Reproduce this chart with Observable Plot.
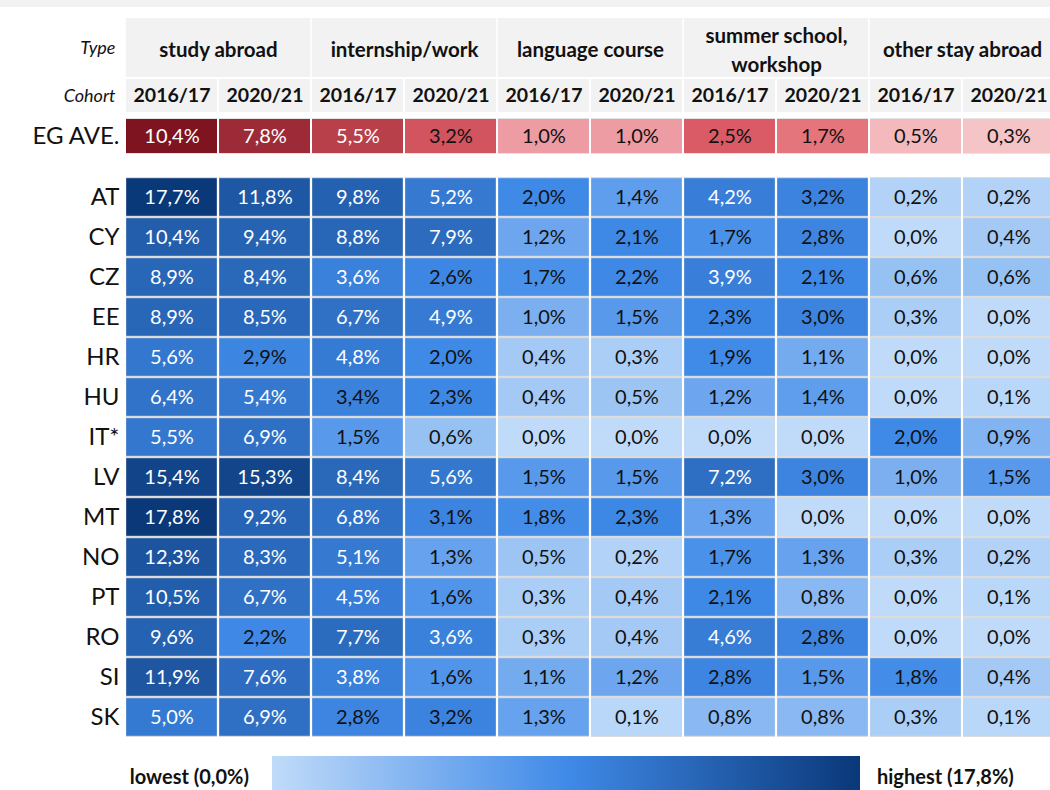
<!DOCTYPE html>
<html>
<head>
<meta charset="utf-8">
<script src="https://cdn.jsdelivr.net/npm/d3@7"></script>
<script src="https://cdn.jsdelivr.net/npm/@observablehq/plot@0.6"></script>
<style>
  html, body { margin: 0; padding: 0; background: #fff; overflow: hidden; width: 1050px; height: 790px; }
  body { font-family: Lato, "Open Sans", sans-serif; color: #111; }
  #strip { height: 7px; background: #f2f2f2; }
  #chart svg { display: block; }
  #legend { position: relative; height: 46px; }
  #legend .lbl { position: absolute; top: 20px; font-weight: 700; font-size: 20px; line-height: 24px; white-space: nowrap; color: #111; }
  #legend .bar { position: absolute; left: 272px; top: 12px; width: 588px; height: 40px; }
</style>
</head>
<body>
<div id="strip"></div>
<div id="chart"></div>
<div id="legend"></div>
<script>
// ---- data ----
const types = ["study abroad", "internship/work", "language course", "summer school,\nworkshop", "other stay abroad"];
const cohorts = ["2016/17", "2020/21"];
const countries = ["AT", "CY", "CZ", "EE", "HR", "HU", "IT*", "LV", "MT", "NO", "PT", "RO", "SI", "SK"];
const egLabel = "EG AVE.";
const egAve = [10.4, 7.8, 5.5, 3.2, 1.0, 1.0, 2.5, 1.7, 0.5, 0.3];
const AT = [17.7, 11.8, 9.8, 5.2, 2.0, 1.4, 4.2, 3.2, 0.2, 0.2];
const CY = [10.4, 9.4, 8.8, 7.9, 1.2, 2.1, 1.7, 2.8, 0.0, 0.4];
const CZ = [8.9, 8.4, 3.6, 2.6, 1.7, 2.2, 3.9, 2.1, 0.6, 0.6];
const EE = [8.9, 8.5, 6.7, 4.9, 1.0, 1.5, 2.3, 3.0, 0.3, 0.0];
const HR = [5.6, 2.9, 4.8, 2.0, 0.4, 0.3, 1.9, 1.1, 0.0, 0.0];
const HU = [6.4, 5.4, 3.4, 2.3, 0.4, 0.5, 1.2, 1.4, 0.0, 0.1];
const IT = [5.5, 6.9, 1.5, 0.6, 0.0, 0.0, 0.0, 0.0, 2.0, 0.9];
const LV = [15.4, 15.3, 8.4, 5.6, 1.5, 1.5, 7.2, 3.0, 1.0, 1.5];
const MT = [17.8, 9.2, 6.8, 3.1, 1.8, 2.3, 1.3, 0.0, 0.0, 0.0];
const NO = [12.3, 8.3, 5.1, 1.3, 0.5, 0.2, 1.7, 1.3, 0.3, 0.2];
const PT = [10.5, 6.7, 4.5, 1.6, 0.3, 0.4, 2.1, 0.8, 0.0, 0.1];
const RO = [9.6, 2.2, 7.7, 3.6, 0.3, 0.4, 4.6, 2.8, 0.0, 0.0];
const SI = [11.9, 7.6, 3.8, 1.6, 1.1, 1.2, 2.8, 1.5, 1.8, 0.4];
const SK = [5.0, 6.9, 2.8, 3.2, 1.3, 0.1, 0.8, 0.8, 0.3, 0.1];
const rows = [AT, CY, CZ, EE, HR, HU, IT, LV, MT, NO, PT, RO, SI, SK];

// ---- styles ----
const blueRange = ["#c0dbf9", "#408ae8", "#0a3879"];
const redRange = ["#f5c4c7", "#df5e68", "#7d1420"];
const headerFill = "#f2f2f2";
const font = "Lato, 'Open Sans', sans-serif";

// ---- derived tables ----
const colKeys = types.flatMap(t => cohorts.map(c => t + "|" + c));
const cohortCells = colKeys.map(k => ({col: k, label: k.split("|")[1], row: "Cohort"}));
const typeCells = types.map(t => ({type: t, row: "Type"}));
const egCells = egAve.map((v, j) => ({col: colKeys[j], row: egLabel, v}));
const data = countries.flatMap((ct, i) => rows[i].map((v, j) => ({country: ct, col: colKeys[j], v})));
const fmt = v => d3.format(".1f")(v).replace(".", ",") + "%";

const allV = data.map(d => d.v);
const blueDomain = [d3.min(allV), d3.median(allV), d3.max(allV)];
const redDomain = [d3.min(egAve), d3.median(egAve), d3.max(egAve)];

const xRange = [125, 1055];
const baseStyle = {fontFamily: font, background: "transparent", color: "#111"};

// Type header row
const plotType = Plot.plot({
  width: 1050, height: 70, marginTop: 11, marginBottom: 0, marginLeft: 125, marginRight: 0,
  style: baseStyle,
  x: {domain: types, range: xRange, padding: 0, axis: null},
  y: {domain: ["Type"], padding: 0, axis: null},
  marks: [
    Plot.cell(typeCells, {x: "type", y: "row", fill: headerFill, insetLeft: 0.75, insetRight: 0.75}),
    Plot.text(typeCells, {x: "type", y: "row", text: "type", fontWeight: 700, fontSize: 20.5, lineHeight: 1.4, fill: "#111"}),
    Plot.axisY({label: null, tickSize: 0, tickPadding: 10, fontSize: 18, fontStyle: "italic", fill: "#111"})
  ]
});

// Cohort header row
const plotCohort = Plot.plot({
  width: 1050, height: 35, marginTop: 2, marginBottom: 0, marginLeft: 125, marginRight: 0,
  style: baseStyle,
  x: {domain: colKeys, range: xRange, padding: 0, axis: null},
  y: {domain: ["Cohort"], padding: 0, axis: null},
  marks: [
    Plot.cell(cohortCells, {x: "col", y: "row", fill: headerFill, insetLeft: 1, insetRight: 1}),
    Plot.text(cohortCells, {x: "col", y: "row", text: "label", fontWeight: 700, fontSize: 19.5, fill: "#111"}),
    Plot.axisY({label: null, tickSize: 0, tickPadding: 10, fontSize: 18, fontStyle: "italic", fill: "#111"})
  ]
});

// EG average row
const plotEG = Plot.plot({
  width: 1050, height: 44, marginTop: 6, marginBottom: 2, marginLeft: 125, marginRight: 0,
  style: baseStyle,
  x: {domain: colKeys, range: xRange, padding: 0, axis: null},
  y: {domain: [egLabel], padding: 0, axis: null},
  color: {type: "linear", domain: redDomain, range: redRange, interpolate: "rgb"},
  marks: [
    Plot.cell(egCells, {x: "col", y: "row", fill: "#e4e4e4", insetLeft: 1, insetRight: 1}),
    Plot.cell(egCells, {x: "col", y: "row", fill: "v", inset: 1}),
    Plot.text(egCells, {x: "col", y: "row", text: d => fmt(d.v), fontSize: 20, fill: d => d.v > 4 ? "#fff" : "#111"}),
    Plot.axisY({label: null, tickSize: 0, tickPadding: 6, fontSize: 24, fill: "#111"})
  ]
});

// country rows
const plotData = Plot.plot({
  width: 1050, height: 588, marginTop: 14.5, marginBottom: 0, marginLeft: 125, marginRight: 0,
  style: baseStyle,
  x: {domain: colKeys, range: xRange, padding: 0, axis: null},
  y: {domain: countries, padding: 0, axis: null},
  color: {type: "linear", domain: blueDomain, range: blueRange, interpolate: "rgb"},
  marks: [
    Plot.cell(data, {x: "col", y: "country", fill: "#dcdcdc", insetLeft: 1, insetRight: 1}),
    Plot.cell(data, {x: "col", y: "country", fill: "v", inset: 1.2}),
    Plot.text(data, {x: "col", y: "country", text: d => fmt(d.v), fontSize: 20, fill: d => d.v > 3.4 ? "#fff" : "#111"}),
    Plot.axisY({label: null, tickSize: 0, tickPadding: 6, fontSize: 24, fill: "#111"})
  ]
});

const chart = document.getElementById("chart");
[plotType, plotCohort, plotEG, plotData].forEach(p => chart.appendChild(p));

// legend
const legend = document.getElementById("legend");
const lo = document.createElement("div");
lo.className = "lbl";
lo.style.right = (1050 - 249) + "px";
lo.textContent = `lowest (${fmt(blueDomain[0])})`;
const bar = document.createElement("div");
bar.className = "bar";
bar.style.background = `linear-gradient(to right, ${blueRange[0]}, ${blueRange[1]}, ${blueRange[2]})`;
const hi = document.createElement("div");
hi.className = "lbl";
hi.style.left = "877px";
hi.textContent = `highest (${fmt(blueDomain[2])})`;
legend.append(lo, bar, hi);
</script>
</body>
</html>
